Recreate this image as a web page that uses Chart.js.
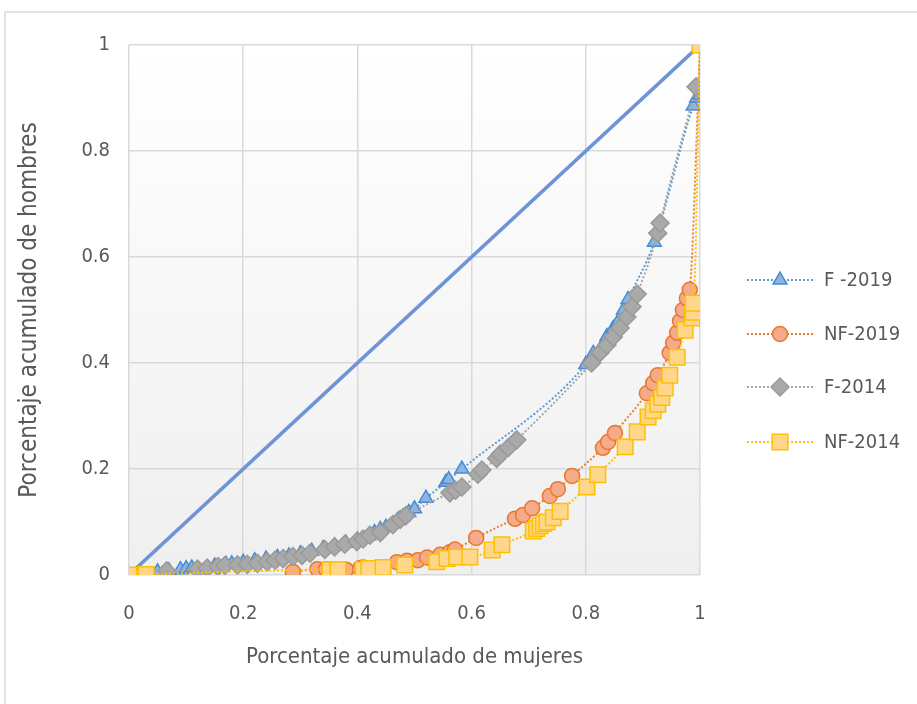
<!DOCTYPE html>
<html lang="es">
<head>
  <meta charset="UTF-8" />
  <title>Curvas de concentración</title>
  <script src="https://cdn.jsdelivr.net/npm/chart.js"></script>
  <style>
    html, body { margin: 0; padding: 0; background: #fff; }
    #grafico { display: block; }
  </style>
</head>
<body>
<canvas id="grafico" width="917" height="704"></canvas>
<script>
  // Datos (x = % acumulado de mujeres, y = % acumulado de hombres)
  const f2019X = [0.05, 0.07, 0.09, 0.1, 0.11, 0.15, 0.17, 0.18, 0.2, 0.22, 0.24, 0.26, 0.28, 0.3, 0.32, 0.34, 0.36, 0.38, 0.4, 0.42, 0.43, 0.44, 0.45, 0.47, 0.48, 0.49, 0.5, 0.52, 0.555, 0.56, 0.583, 0.8, 0.813, 0.825, 0.837, 0.848, 0.855, 0.866, 0.874, 0.92, 0.988, 0.994, 1];
  const f2019Y = [0.006, 0.008, 0.01, 0.012, 0.013, 0.017, 0.02, 0.021, 0.024, 0.027, 0.03, 0.033, 0.036, 0.04, 0.045, 0.05, 0.055, 0.06, 0.066, 0.074, 0.08, 0.086, 0.09, 0.103, 0.11, 0.118, 0.125, 0.145, 0.175, 0.18, 0.2, 0.397, 0.418, 0.425, 0.45, 0.465, 0.475, 0.5, 0.52, 0.628, 0.885, 0.9, 0.905];

  const nf2019X = [0.287, 0.33, 0.345, 0.38, 0.405, 0.41, 0.469, 0.487, 0.506, 0.522, 0.545, 0.562, 0.571, 0.608, 0.676, 0.69, 0.706, 0.737, 0.751, 0.776, 0.83, 0.839, 0.851, 0.907, 0.918, 0.926, 0.947, 0.953, 0.96, 0.965, 0.97, 0.977, 0.982, 1];
  const nf2019Y = [0.006, 0.011, 0.011, 0.01, 0.013, 0.014, 0.024, 0.027, 0.028, 0.033, 0.038, 0.043, 0.048, 0.07, 0.106, 0.113, 0.126, 0.149, 0.162, 0.187, 0.24, 0.251, 0.268, 0.343, 0.362, 0.377, 0.419, 0.438, 0.457, 0.479, 0.5, 0.522, 0.538, 1];

  const f2014X = [0.066, 0.12, 0.137, 0.156, 0.168, 0.19, 0.207, 0.225, 0.242, 0.256, 0.27, 0.287, 0.303, 0.317, 0.343, 0.36, 0.378, 0.399, 0.41, 0.422, 0.44, 0.462, 0.475, 0.485, 0.562, 0.572, 0.583, 0.611, 0.618, 0.644, 0.65, 0.664, 0.679, 0.81, 0.825, 0.837, 0.848, 0.86, 0.872, 0.881, 0.89, 0.926, 0.93, 0.993];
  const f2014Y = [0.008, 0.011, 0.013, 0.016, 0.018, 0.019, 0.02, 0.022, 0.025, 0.028, 0.031, 0.035, 0.037, 0.041, 0.048, 0.053, 0.058, 0.063, 0.068, 0.075, 0.08, 0.095, 0.105, 0.112, 0.155, 0.16, 0.166, 0.19, 0.198, 0.22, 0.228, 0.24, 0.255, 0.4, 0.42, 0.434, 0.449, 0.466, 0.487, 0.506, 0.53, 0.645, 0.664, 0.921];

  const nf2014X = [0, 0.03, 0.352, 0.366, 0.41, 0.42, 0.445, 0.483, 0.539, 0.557, 0.574, 0.597, 0.636, 0.653, 0.708, 0.714, 0.72, 0.726, 0.732, 0.743, 0.755, 0.802, 0.821, 0.869, 0.89, 0.909, 0.918, 0.926, 0.933, 0.939, 0.947, 0.96, 0.974, 0.986, 0.988, 0.988, 1];
  const nf2014Y = [0, 0.001, 0.01, 0.01, 0.01, 0.012, 0.014, 0.019, 0.025, 0.031, 0.034, 0.034, 0.047, 0.057, 0.083, 0.088, 0.093, 0.097, 0.1, 0.108, 0.12, 0.166, 0.189, 0.242, 0.27, 0.298, 0.31, 0.322, 0.335, 0.353, 0.377, 0.411, 0.462, 0.485, 0.496, 0.513, 1];

  const igualdadX = [0, 1];
  const igualdadY = [0, 1];

  const tickValores = [0, 0.2, 0.4, 0.6, 0.8, 1];
  const tickEtiquetas = ['0', '0.2', '0.4', '0.6', '0.8', '1'];

  const puntos = (xs, ys) => xs.map((x, i) => ({ x: x, y: ys[i] }));

  const fuente = '"Liberation Sans Narrow", "DejaVu Sans Condensed", "Open Sans", sans-serif';
  const gris = '#595959';

  const series = [
    { label: 'F -2019', datos: puntos(f2019X, f2019Y), estilo: 'triangle', radio: 8, fondo: '#8db4e2', borde: '#4a8bd0', linea: '#5b9bd5', orden: 3 },
    { label: 'NF-2019', datos: puntos(nf2019X, nf2019Y), estilo: 'circle', radio: 7.5, fondo: '#f4ab8a', borde: '#ea7630', linea: '#ed7d31', orden: 2 },
    { label: 'F-2014', datos: puntos(f2014X, f2014Y), estilo: 'rectRot', radio: 9, fondo: '#a9a9a9', borde: '#9a9a9a', linea: '#a5a5a5', orden: 1 },
    { label: 'NF-2014', datos: puntos(nf2014X, nf2014Y), estilo: 'rect', radio: 11, fondo: '#ffd68a', borde: '#ffc000', linea: '#ffc000', orden: 0 }
  ];

  const datasets = series.map(s => ({
    label: s.label,
    data: s.datos,
    showLine: true,
    borderColor: s.linea,
    borderWidth: 2,
    borderDash: [2, 2],
    cubicInterpolationMode: 'monotone',
    pointStyle: s.estilo,
    pointRadius: s.radio,
    pointBackgroundColor: s.fondo,
    pointBorderColor: s.borde,
    pointBorderWidth: 1.5,
    order: s.orden
  }));

  datasets.push({
    label: 'Igualdad',
    data: puntos(igualdadX, igualdadY),
    showLine: true,
    borderColor: '#6f94d6',
    borderWidth: 3.5,
    pointRadius: 0,
    order: 4
  });

  // fondo degradado del área de trazado y marco exterior
  const fondoPlugin = {
    id: 'fondo',
    beforeDraw(chart) {
      const { ctx, chartArea: a } = chart;
      ctx.save();
      ctx.strokeStyle = '#d9d9d9';
      ctx.lineWidth = 1.5;
      ctx.strokeRect(5, 12, 1000, 1000);
      const g = ctx.createLinearGradient(0, a.top, 0, a.bottom);
      g.addColorStop(0, '#ffffff');
      g.addColorStop(1, '#efefef');
      ctx.fillStyle = g;
      ctx.fillRect(a.left, a.top, a.right - a.left, a.bottom - a.top);
      ctx.restore();
    }
  };

  // leyenda a la derecha: línea punteada con marcador y texto
  const leyendaPlugin = {
    id: 'leyenda',
    afterDraw(chart) {
      const { ctx } = chart;
      const filas = [280, 334, 387, 442];
      ctx.save();
      series.forEach((s, i) => {
        const y = filas[i];
        ctx.strokeStyle = s.linea;
        ctx.lineWidth = 2;
        ctx.setLineDash([2, 2]);
        ctx.beginPath();
        ctx.moveTo(747, y);
        ctx.lineTo(813, y);
        ctx.stroke();
        ctx.setLineDash([]);
        ctx.fillStyle = s.fondo;
        ctx.strokeStyle = s.borde;
        ctx.lineWidth = 1.5;
        Chart.helpers.drawPoint(ctx, { pointStyle: s.estilo, radius: s.radio, rotation: 0, borderWidth: 1.5 }, 780, y);
        ctx.fillStyle = gris;
        ctx.font = '20px ' + fuente;
        ctx.textAlign = 'left';
        ctx.textBaseline = 'middle';
        ctx.fillText(s.label, 824, y + 1);
      });
      ctx.restore();
    }
  };

  new Chart(document.getElementById('grafico'), {
    type: 'scatter',
    data: { datasets: datasets },
    options: {
      responsive: false,
      animation: false,
      layout: { padding: { left: 0, right: 217, top: 45, bottom: 0 } },
      plugins: { legend: { display: false }, tooltip: { enabled: false } },
      scales: {
        x: {
          type: 'linear', min: 0, max: 1,
          afterFit(scale) { scale.height = 129; },
          afterBuildTicks(scale) { scale.ticks = tickValores.map(v => ({ value: v })); },
          grid: { color: '#d9d9d9', lineWidth: 1.5, drawTicks: false },
          border: { display: false },
          ticks: {
            padding: 27, color: gris, font: { size: 20, family: fuente },
            callback: (v) => tickEtiquetas[tickValores.indexOf(v)]
          },
          title: {
            display: true, text: 'Porcentaje acumulado de mujeres', color: gris,
            font: { size: 22, family: fuente }, padding: { top: 0, bottom: 34 }
          }
        },
        y: {
          type: 'linear', min: 0, max: 1,
          afterFit(scale) { scale.width = 129; },
          afterBuildTicks(scale) { scale.ticks = tickValores.map(v => ({ value: v })); },
          grid: { color: '#d9d9d9', lineWidth: 1.5, drawTicks: false },
          border: { display: false },
          ticks: {
            padding: 19, color: gris, font: { size: 20, family: fuente },
            callback: (v) => tickEtiquetas[tickValores.indexOf(v)]
          },
          title: {
            display: true, text: 'Porcentaje acumulado de hombres', color: gris,
            font: { size: 24, family: fuente }, padding: { top: 15, bottom: 0 }
          }
        }
      }
    },
    plugins: [fondoPlugin, leyendaPlugin]
  });
</script>
</body>
</html>
